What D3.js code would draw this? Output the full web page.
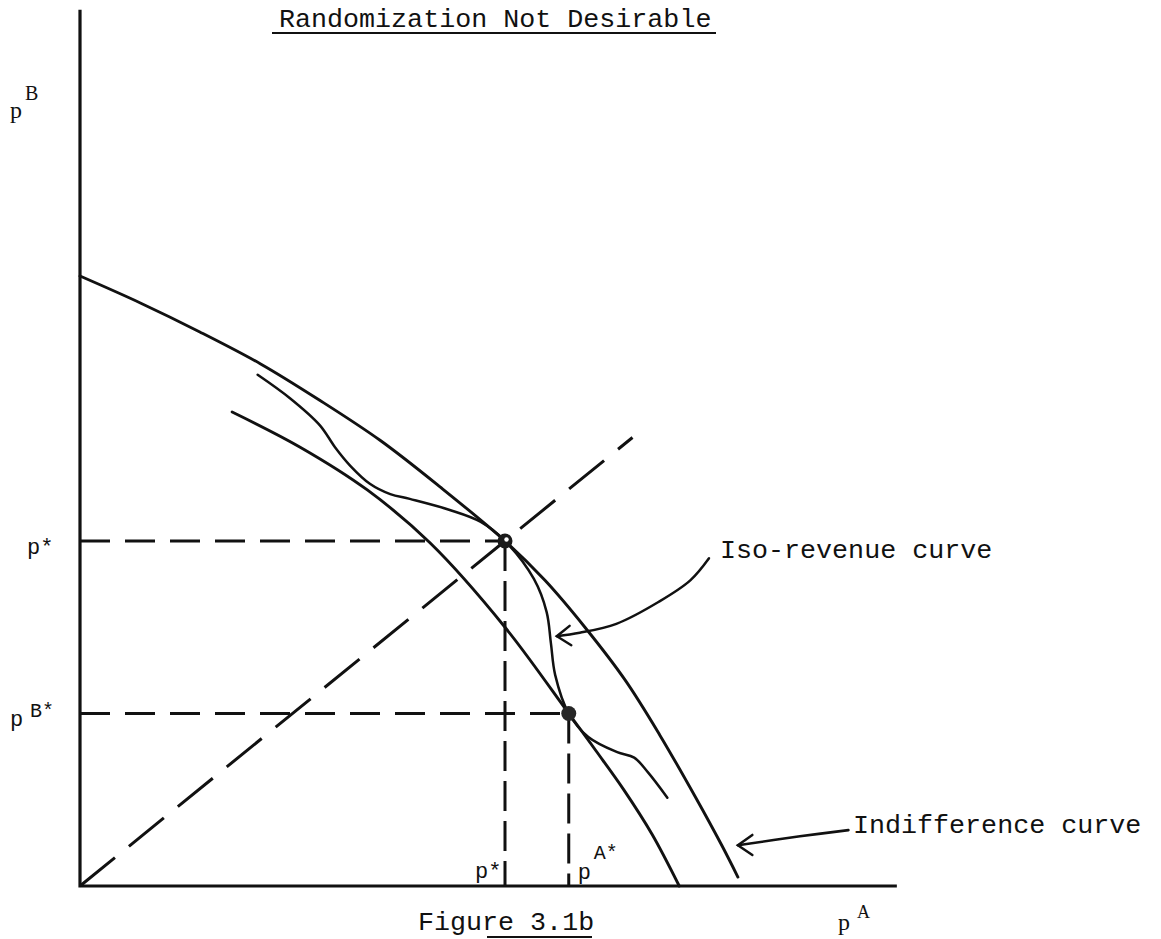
<!DOCTYPE html>
<html lang="en">
<head>
  <meta charset="UTF-8" />
  <title>Randomization Not Desirable</title>
  <script src="https://d3js.org/d3.v7.min.js"></script>
  <style>
    body { margin: 0; background: #fff; }
    .mono { font-family: "Liberation Mono", "Courier New", monospace; fill: #111; }
    .serif { font-family: "Liberation Serif", "Times New Roman", serif; fill: #111; }
  </style>
</head>
<body>
  <svg id="chart" width="1161" height="939"></svg>

  <script>
    const svg = d3.select("#chart");

    // equilibrium values (data units)
    const pStar = 50;
    const pAStar = 57.5;
    const pBStar = 25;

    // indifference curve (outer)
    const indiffA = [0, 7.1, 14.1, 21.2, 28.2, 35.3, 42.4, 50, 54.7, 59.4, 64.1, 68.2, 72.4, 75.5, 77.4];
    const indiffB = [88.4, 84.5, 80.3, 75.7, 70.4, 64.6, 57.8, 50, 44.3, 37.5, 29.9, 21.9, 12.9, 5.9, 1.3];

    // inner curve through (pA*, pB*)
    const innerA = [17.9, 25.9, 33.8, 41.2, 50, 57.5, 60.7, 64, 67.3, 70.5];
    const innerB = [68.7, 63.6, 57.4, 49.7, 37.5, 25, 19.6, 13.9, 7.5, 0];

    // iso-revenue curve (wavy)
    const isoA = [20.9, 24.7, 28.2, 30, 31.8, 34.1, 36.5, 38.8, 43.5, 47.1, 50, 53.4, 54.9, 55.4, 55.9, 57.5, 59.8, 63.2, 65.2, 66.8, 69.1];
    const isoB = [74.1, 70.7, 66.8, 63.6, 60.9, 58.3, 56.8, 56.1, 54.5, 52.8, 50, 44.5, 39.7, 35.2, 30.6, 25, 21.6, 19.4, 18.6, 16.5, 12.8];

    // 45 degree line
    const diagA = [0, 65];
    const diagB = [0, 65];

    // annotation arrows
    const isoArrowA = [74, 71.8, 68.1, 63.1, 58.8, 56.1];
    const isoArrowB = [47.5, 44.3, 41.2, 38, 36.7, 36.2];
    const isoHeadA = [57.6, 56.1, 57.8];
    const isoHeadB = [37.7, 36.2, 34.9];
    const indArrowA = [90.4, 84.7, 77.4];
    const indArrowB = [8.1, 7.2, 5.9];
    const indHeadA = [79.1, 77.4, 79.1];
    const indHeadB = [7.4, 5.9, 4.5];

    const axisTopB = 127;
    const axisRightA = 96.1;

    const x = d3.scaleLinear().domain([0, 100]).range([80, 930]);
    const y = d3.scaleLinear().domain([0, 100]).range([886, 196]);

    const pts = (as, bs) => as.map((a, i) => [x(a), y(bs[i])]);
    const smooth = d3.line().curve(d3.curveCatmullRom.alpha(0.5));
    const straight = d3.line();

    const g = svg.append("g").attr("fill", "none").attr("stroke", "#111")
      .attr("stroke-linecap", "round");

    // axes
    g.append("path").attr("stroke-width", 3.2).attr("stroke-linecap", "butt")
      .attr("d", straight([[x(0), y(axisTopB)], [x(0), y(0)], [x(axisRightA), y(0)]]));

    // dashed guides
    const dashed = [
      { d: [[0, pStar], [pStar, pStar]], dash: "30,15" },
      { d: [[pStar, pStar], [pStar, 0]], dash: "30,10" },
      { d: [[0, pBStar], [pAStar, pBStar]], dash: "30,15" },
      { d: [[pAStar, pBStar], [pAStar, 0]], dash: "30,10" },
      { d: [[diagA[0], diagB[0]], [diagA[1], diagB[1]]], dash: "45,18" }
    ];
    dashed.forEach(s => {
      g.append("path")
        .attr("stroke-width", 3)
        .attr("stroke-linecap", "butt")
        .attr("stroke-dasharray", s.dash)
        .attr("d", straight(s.d.map(p => [x(p[0]), y(p[1])])));
    });

    // curves
    g.append("path").attr("stroke-width", 2.9).attr("d", smooth(pts(indiffA, indiffB)));
    g.append("path").attr("stroke-width", 2.9).attr("d", smooth(pts(innerA, innerB)));
    g.append("path").attr("stroke-width", 2.5).attr("d", smooth(pts(isoA, isoB)));

    // arrows
    g.append("path").attr("stroke-width", 2.5).attr("d", smooth(pts(isoArrowA, isoArrowB)));
    g.append("path").attr("stroke-width", 2.5).attr("d", straight(pts(isoHeadA, isoHeadB)));
    g.append("path").attr("stroke-width", 2.6).attr("d", smooth(pts(indArrowA, indArrowB)));
    g.append("path").attr("stroke-width", 2.5).attr("d", straight(pts(indHeadA, indHeadB)));

    // equilibrium points
    svg.append("circle").attr("cx", x(pStar)).attr("cy", y(pStar)).attr("r", 7.5)
      .attr("fill", "#1a1a1a");
    svg.append("circle").attr("cx", x(pStar) + 1.5).attr("cy", y(pStar) - 1.5).attr("r", 2.2)
      .attr("fill", "#fff");
    svg.append("circle").attr("cx", x(pAStar)).attr("cy", y(pBStar)).attr("r", 7.5)
      .attr("fill", "#262626");

    // title
    svg.append("text").attr("class", "mono").attr("x", 279).attr("y", 27)
      .style("font-size", "26.7px").text("Randomization Not Desirable");
    svg.append("line").attr("x1", 272).attr("x2", 716).attr("y1", 33).attr("y2", 33)
      .attr("stroke", "#111").attr("stroke-width", 2);

    // axis labels
    svg.append("text").attr("class", "serif").attr("x", 10).attr("y", 118)
      .style("font-size", "24px").text("p");
    svg.append("text").attr("class", "serif").attr("x", 25).attr("y", 100)
      .style("font-size", "20px").text("B");
    svg.append("text").attr("class", "serif").attr("x", 838).attr("y", 930)
      .style("font-size", "24px").text("p");
    svg.append("text").attr("class", "serif").attr("x", 857).attr("y", 918)
      .style("font-size", "18px").text("A");

    // guide labels
    svg.append("text").attr("class", "mono").attr("x", 27).attr("y", y(pStar) + 13)
      .style("font-size", "22px").text("p*");
    svg.append("text").attr("class", "mono").attr("x", 10).attr("y", y(pBStar) + 12)
      .style("font-size", "22px").text("p");
    svg.append("text").attr("class", "mono").attr("x", 30).attr("y", y(pBStar) + 3)
      .style("font-size", "20px").text("B*");
    svg.append("text").attr("class", "mono").attr("x", x(pStar) - 30).attr("y", y(0) - 8)
      .style("font-size", "22px").text("p*");
    svg.append("text").attr("class", "mono").attr("x", x(pAStar) + 9).attr("y", y(0) - 7)
      .style("font-size", "22px").text("p");
    svg.append("text").attr("class", "mono").attr("x", x(pAStar) + 25).attr("y", y(0) - 27)
      .style("font-size", "20px").text("A*");

    // curve labels
    svg.append("text").attr("class", "mono").attr("x", 720).attr("y", 558)
      .style("font-size", "26.7px").text("Iso-revenue curve");
    svg.append("text").attr("class", "mono").attr("x", 853).attr("y", 833)
      .style("font-size", "26.7px").text("Indifference curve");

    // caption
    svg.append("text").attr("class", "mono").attr("x", 418).attr("y", 930)
      .style("font-size", "26.7px").text("Figure 3.1b");
    svg.append("line").attr("x1", 487).attr("x2", 592).attr("y1", 937).attr("y2", 937)
      .attr("stroke", "#111").attr("stroke-width", 2);
  </script>
</body>
</html>
